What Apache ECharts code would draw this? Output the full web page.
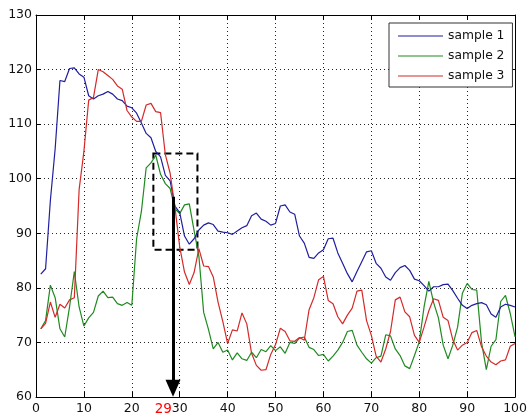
<!DOCTYPE html>
<html>
<head>
<meta charset="utf-8">
<script src="https://cdn.jsdelivr.net/npm/echarts@6/dist/echarts.min.js"></script>
<style>html,body{margin:0;padding:0;background:#fff;}#c{width:530px;height:417px;}</style>
</head>
<body>
<div id="c"></div>
<script>
var xValues = [1,2,3,4,5,6,7,8,9,10,11,12,13,14,15,16,17,18,19,20,21,22,23,24,25,26,27,28,29,30,31,32,33,34,35,36,37,38,39,40,41,42,43,44,45,46,47,48,49,50,51,52,53,54,55,56,57,58,59,60,61,62,63,64,65,66,67,68,69,70,71,72,73,74,75,76,77,78,79,80,81,82,83,84,85,86,87,88,89,90,91,92,93,94,95,96,97,98,99,100];
var sample1 = [82.5,83.5,96,105.5,118,117.8,120.2,120.3,119.2,118.6,115.2,114.6,115.2,115.5,116,115.5,114.6,114.3,113.3,113,112,110.2,108.3,107.5,105,104,100.6,99.6,95,93.8,89.5,88,89,90.6,91.5,91.9,91.6,90.4,90.2,90.1,89.8,90.4,91,91.4,93.2,93.7,92.6,92.2,91.5,91.8,95,95.2,93.9,93.5,89.5,88.2,85.6,85.4,86.4,87,89,89.1,86.4,84.5,82.6,81.1,83,84.8,86.6,86.8,84.5,83.6,82,81.4,82.8,83.7,84.1,83.2,81.6,81.3,80.4,79.4,80.2,80.2,80.6,80.7,79.5,78.1,76.8,76.2,76.8,77.1,77.3,76.9,75.2,74.6,76.5,77,76.8,76.5];
var sample2 = [72.5,74,80.5,78.2,72.5,71,76.5,83,76.5,73,74.5,75.5,78.5,79.4,78.2,78.3,77.1,76.8,77.3,76.8,89,94,102,102.9,104.3,100.8,99.1,98.2,94.5,93.6,95.2,95.4,90.5,85.8,75.5,72.4,68.8,70,68.2,68.6,66.8,68.1,67,66.7,68.2,67.2,68.7,68.3,69.4,68.5,69.2,68,70,69.8,70.8,71,69.1,68.7,67.6,67.8,66.6,67.5,68.6,70,72,72.2,69.5,68.2,67,66.2,67.2,67.5,71.4,71.2,68.8,67.6,65.7,65.2,67.6,70.1,76.5,81.2,77.3,74.5,69.5,67,69.5,72.8,79,80.8,79.7,79.6,70,65,69.3,70.5,77.5,78.6,75.3,71];
var sample3 = [72.5,73.5,77.4,74.6,77,76.3,77.8,78.2,98,105,114.4,114.9,120,119.6,118.9,118.2,117,116.4,112.5,111.3,110.5,110.5,113.5,113.8,112.3,112.1,104.4,101,94.8,87.5,82.9,80.6,82.8,87.2,84,83.9,82,77.4,73.8,69.8,72.3,72.1,75.4,73.4,68,65.8,64.9,65,67.8,69.6,72.6,72,70.3,70.2,70.9,70.4,76,78.2,81.5,82.1,77.7,77.1,74.7,73.4,75,76.3,79.4,79.6,74,71.3,67.5,66.4,68.8,72,77.8,78.3,75.6,74.7,71.3,70,72.8,75.8,78,77.7,74.6,74,70.5,68.6,69.5,70,71.8,72.2,69.2,67.5,66.4,65.9,66.6,66.8,69.3,69.8];
var seriesNames = ['sample 1','sample 2','sample 3'];
var seriesColors = ['#1f1f9f','#1f8a1f','#d42a2a'];
var xTicks = [0,10,20,30,40,50,60,70,80,90,100];
var yTicks = [60,70,80,90,100,110,120,130];
var boxX = [24.5, 33.7];
var boxY = [87, 104.6];
var arrowX = 28.6;
var arrowY = [96.7, 61.6];
var markedLabel = '29';
var markedValue = 29;

function pairs(xs, ys){ return xs.map(function(x,i){ return [x, ys[i]]; }); }

var chart = echarts.init(document.getElementById('c'), null, {renderer:'canvas'});
var font = 'DejaVu Sans, sans-serif';
var tickStyle = {show:true, inside:true, length:5, lineStyle:{color:'#000', width:1}};
var axisLineStyle = {show:true, onZero:false, lineStyle:{color:'#000', width:1}};
var dotted = {show:true, lineStyle:{color:'#222', width:1, type:[1,3]}};

var option = {
  animation:false,
  backgroundColor:'#fff',
  grid:{left:36, right:12, top:15, bottom:20, containLabel:false},
  legend:{
    data:seriesNames, orient:'vertical', left:389, top:23,
    padding:[7,8,5,9], itemGap:8, itemWidth:45, itemHeight:13,
    borderColor:'#333', borderWidth:1, backgroundColor:'#fff',
    textStyle:{fontFamily:font, fontSize:12.3, color:'#111'},
    icon:'path://M0,6.5L45,6.5L45,7.5L0,7.5Z'
  },
  xAxis:[
    {type:'value', min:xTicks[0], max:xTicks[xTicks.length-1], interval:10, position:'bottom',
     axisLine:axisLineStyle, axisTick:tickStyle, splitLine:dotted,
     axisLabel:{margin:5, fontFamily:font, fontSize:12.5, color:'#111'}},
    {type:'value', min:xTicks[0], max:xTicks[xTicks.length-1], interval:10, position:'top',
     axisLine:axisLineStyle, axisTick:tickStyle, splitLine:{show:false}, axisLabel:{show:false}}
  ],
  yAxis:[
    {type:'value', min:yTicks[0], max:yTicks[yTicks.length-1], interval:10, position:'left',
     axisLine:axisLineStyle, axisTick:tickStyle, splitLine:dotted,
     axisLabel:{margin:4, fontFamily:font, fontSize:12.5, color:'#111'}},
    {type:'value', min:yTicks[0], max:yTicks[yTicks.length-1], interval:10, position:'right',
     axisLine:axisLineStyle, axisTick:tickStyle, splitLine:{show:false}, axisLabel:{show:false}}
  ],
  series:[
    {name:seriesNames[0], type:'line', data:pairs(xValues, sample1), symbol:'none', color:seriesColors[0],
     lineStyle:{width:1.2, color:seriesColors[0]}, z:3,
     markArea:{silent:true, itemStyle:{color:'rgba(0,0,0,0)', borderColor:'#000', borderWidth:2, borderType:[7,4]},
       data:[[{coord:[boxX[0], boxY[1]]},{coord:[boxX[1], boxY[0]]}]]}},
    {name:seriesNames[1], type:'line', data:pairs(xValues, sample2), symbol:'none', color:seriesColors[1],
     lineStyle:{width:1.2, color:seriesColors[1]}, z:2},
    {name:seriesNames[2], type:'line', data:pairs(xValues, sample3), symbol:'none', color:seriesColors[2],
     lineStyle:{width:1.2, color:seriesColors[2]}, z:4,
     markLine:{silent:true, symbol:['none','triangle'], symbolSize:[15,17], label:{show:false},
       lineStyle:{color:'#000', width:3, type:'solid'},
       data:[[{coord:[arrowX, arrowY[0]]},{coord:[arrowX, arrowY[1]]}]]}}
  ]
};
chart.setOption(option);
var p = chart.convertToPixel({xAxisIndex:0, yAxisIndex:0}, [markedValue, yTicks[0]]);
chart.setOption({graphic:[{type:'text', x:p[0]-3, y:p[1]+5, z:10,
  style:{text:markedLabel, fill:'#ff0000', font:'13.5px ' + font, textAlign:'right', textVerticalAlign:'top'}}]});
</script>
</body>
</html>
